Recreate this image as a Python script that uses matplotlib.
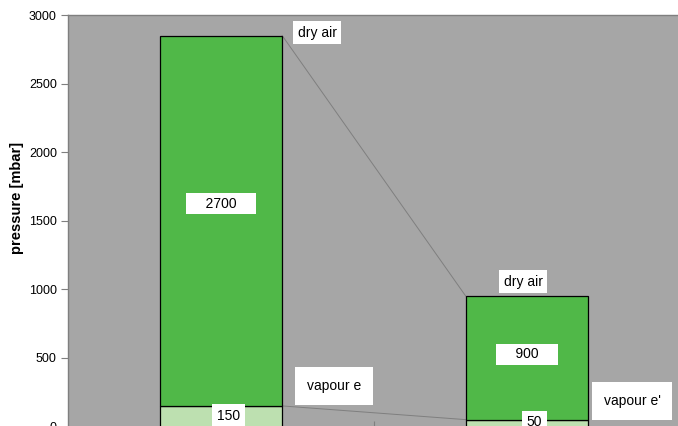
import numpy as np
import matplotlib.pyplot as plt

plt.rcParams["font.family"] = ["Liberation Sans", "DejaVu Sans"]

# data
cases = ["before", "after"]
vapour = [150, 50]
dry_air = [2700, 900]
vapour_names = ["vapour e", "vapour e'"]

# label placement (data coords)
dry_lbl_x = [0.314, 0.987]
dry_lbl_y = [2872, 1056]
vap_lbl_x = [0.369, 1.343]
vap_lbl_y = [296, 186]
val_dry_y = [1624, 526]
val_vap_y = [77, 30]

bg = "#a6a6a6"
dark = "#50b848"
light = "#bde0b0"
w = 0.4

fig = plt.figure(figsize=(6.78, 4.26), dpi=100)
ax = fig.add_axes([68 / 678, -0.5 / 426, 612 / 678, 411.5 / 426])
ax.set_facecolor(bg)

x = np.arange(len(cases))
vapour = np.array(vapour)
dry_air = np.array(dry_air)
top = vapour + dry_air

ax.bar(x, vapour, width=w, color=light, edgecolor="black", linewidth=0.9, zorder=3)
ax.bar(x, dry_air, width=w, bottom=vapour, color=dark, edgecolor="black", linewidth=0.9, zorder=3)

# series lines between bars
ax.plot([x[0] + w / 2, x[1] - w / 2], [top[0], top[1]], color="#7f7f7f", lw=0.7, zorder=2)
ax.plot([x[0] + w / 2, x[1] - w / 2], [vapour[0], vapour[1]], color="#7f7f7f", lw=0.7, zorder=2)

box = dict(boxstyle="square,pad=0.25", fc="white", ec="none")
for i in range(len(cases)):
    ax.text(x[i], val_dry_y[i], "    %d    " % dry_air[i], ha="center", va="center",
            fontsize=10, bbox=box, zorder=5)
    ax.text(x[i] + 0.025, val_vap_y[i], "%d" % vapour[i], ha="center", va="center",
            fontsize=10, bbox=dict(boxstyle="square,pad=0.35", fc="white", ec="none"), zorder=5)
    ax.text(dry_lbl_x[i], dry_lbl_y[i], "dry air", ha="center", va="center",
            fontsize=10, bbox=dict(boxstyle="square,pad=0.3", fc="white", ec="none"), zorder=5)
    ax.text(vap_lbl_x[i], vap_lbl_y[i], vapour_names[i], ha="center", va="center",
            fontsize=10, bbox=dict(boxstyle="square,pad=0.85", fc="white", ec="none"), zorder=5)

ax.set_xlim(-0.5, 1.5)
ax.set_ylim(0, 3000)
ax.set_yticks(np.arange(0, 3001, 500))
ax.set_xticks([0.5])
ax.set_xticklabels([])
ax.tick_params(axis="y", direction="out", length=5, color="#7f7f7f", labelsize=9, pad=3)
ax.tick_params(axis="x", direction="inout", length=8, color="#7f7f7f")

for s in ["top", "left"]:
    ax.spines[s].set_color("#7f7f7f")
    ax.spines[s].set_linewidth(1.0)
ax.spines["right"].set_visible(False)
ax.spines["bottom"].set_visible(False)

fig.text(17.5 / 678, 1 - 198 / 426, "pressure [mbar]", rotation=90, ha="center", va="center",
         fontsize=10.5, fontweight="bold")

fig.savefig("out.png", dpi=100)
